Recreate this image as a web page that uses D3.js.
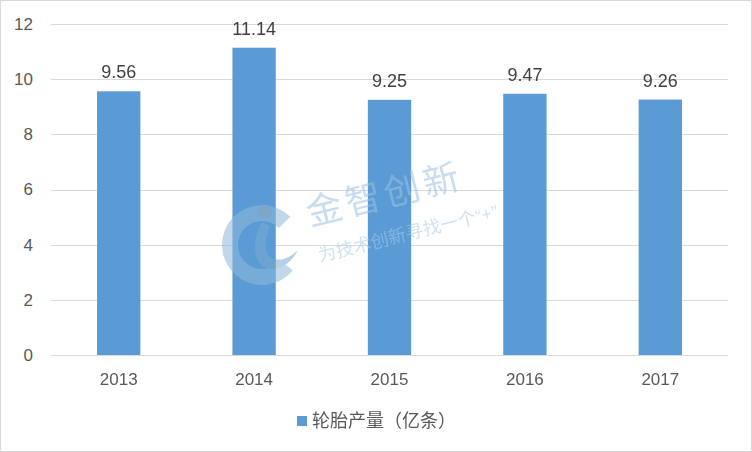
<!DOCTYPE html>
<html><head><meta charset="utf-8">
<script src="https://cdn.jsdelivr.net/npm/d3@7"></script>
<style>body{margin:0;background:#fff}svg{display:block}text{font-family:"Liberation Sans","Noto Sans CJK SC",sans-serif}</style>
</head><body><svg id="c" width="752" height="452"></svg>
<script>
const categories = ["2013","2014","2015","2016","2017"];
const values = [9.56, 11.14, 9.25, 9.47, 9.26];
const yTicks = [0,2,4,6,8,10,12];
const seriesName = "轮胎产量（亿条）";

const svg = d3.select("#c");
const W = 752, H = 452;
const m = {l:51, r:24, t:24, b:97};
svg.append("rect").attr("x",0.5).attr("y",0.5).attr("width",W-1).attr("height",H-1)
  .attr("fill","#fff").attr("stroke","#d9d9d9");

const x = d3.scaleBand().domain(categories).range([m.l, W-m.r]).paddingInner(0.68).paddingOuter(0.34);
const y = d3.scaleLinear().domain([0,12]).range([H-m.b, m.t]);

// gridlines
svg.append("g").selectAll("line").data(yTicks).join("line")
  .attr("x1", m.l).attr("x2", W-m.r)
  .attr("y1", d=>Math.round(y(d))+0.5).attr("y2", d=>Math.round(y(d))+0.5)
  .attr("stroke","#d9d9d9").attr("stroke-width",1);

// y labels
svg.append("g").selectAll("text").data(yTicks).join("text")
  .attr("x", 33).attr("y", d=>y(d)).attr("dy","0.35em").attr("text-anchor","end")
  .attr("font-size",17).attr("fill","#595959").text(d=>d);

// bars
svg.append("g").selectAll("rect").data(values).join("rect")
  .attr("x",(d,i)=>x(categories[i])).attr("width",x.bandwidth())
  .attr("y",d=>y(d)).attr("height",d=>y(0)-y(d)).attr("fill","#5b9bd5");

// watermark
const wm = svg.append("g").attr("opacity",0.55);
wm.append("path").attr("d", d3.arc()({innerRadius:24, outerRadius:40, startAngle:0.72*Math.PI, endAngle:2.25*Math.PI}))
  .attr("transform","translate(262,245)").attr("fill","#8fb8da");
wm.append("path").attr("d","M262,222 C252,240 252,262 266,268 C280,272 292,262 298,250 C290,258 280,262 272,258 C262,252 266,236 270,226 Z")
  .attr("fill","#7aa9d2");
wm.append("circle").attr("cx",265).attr("cy",212).attr("r",7).attr("fill","#9bb0c0");
wm.append("text").attr("transform","translate(310,226) rotate(-14)").attr("font-size",36)
  .attr("fill","#9cc2e2").attr("font-family","Noto Sans CJK SC").attr("letter-spacing",4).text("金智创新");
wm.append("text").attr("transform","translate(320,262) rotate(-14)").attr("font-size",18)
  .attr("fill","#a9cbe6").attr("font-family","Noto Sans CJK SC").text("为技术创新寻找一个“+”");

// data labels
svg.append("g").selectAll("text").data(values).join("text")
  .attr("x",(d,i)=>x(categories[i])+x.bandwidth()/2).attr("y",d=>y(d)-13)
  .attr("text-anchor","middle").attr("font-size",18).attr("fill","#404040")
  .text(d=>d.toFixed(2));

// x labels
svg.append("g").selectAll("text").data(categories).join("text")
  .attr("x",d=>x(d)+x.bandwidth()/2).attr("y",379).attr("dy","0.35em")
  .attr("text-anchor","middle").attr("font-size",17).attr("fill","#595959").text(d=>d);

// legend
const lg = svg.append("g");
lg.append("rect").attr("x",297).attr("y",416).attr("width",10).attr("height",10).attr("fill","#5b9bd5");
lg.append("text").attr("x",312).attr("y",421).attr("dy","0.35em").attr("font-size",18)
  .attr("fill","#595959").attr("font-family","Noto Sans CJK SC").text(seriesName);
</script></body></html>
